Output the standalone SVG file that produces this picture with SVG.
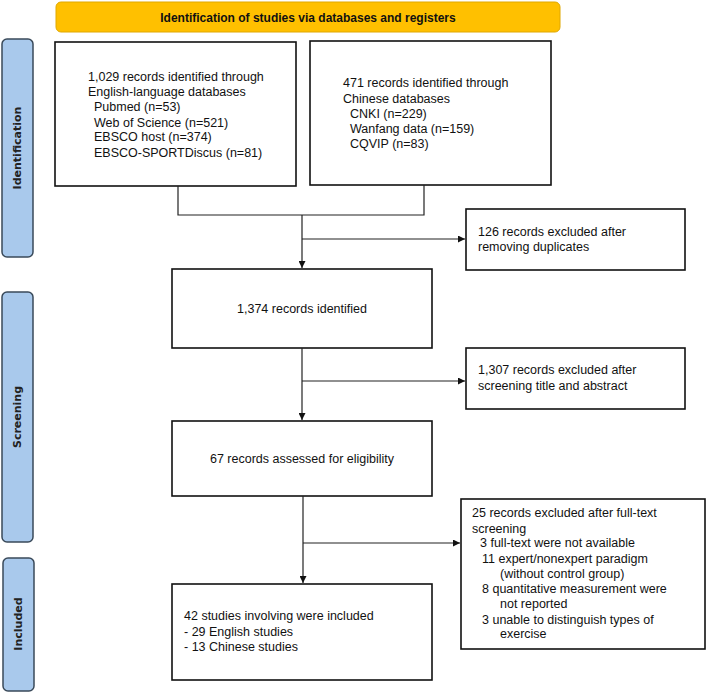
<svg xmlns="http://www.w3.org/2000/svg" width="708" height="695" viewBox="0 0 708 695">
<style>
text{font-family:"Liberation Sans",Arial,sans-serif;font-size:12.5px;fill:#111}
.box{fill:#fff;stroke:#111;stroke-width:1.6}
.side{fill:#a9c9ec;stroke:#3a4a5a;stroke-width:1.5}
.sl{font-family:"DejaVu Sans",sans-serif;font-weight:bold;font-size:11px;fill:#222;text-anchor:middle}
.ln{fill:none;stroke:#222;stroke-width:1.2}
</style>
<defs><marker id="ar" viewBox="0 0 10 10" refX="10" refY="5" markerWidth="7" markerHeight="7" orient="auto" markerUnits="userSpaceOnUse"><path d="M0,0L10,5L0,10z" fill="#111"/></marker></defs>
<g id="banner"><rect x="56" y="2" width="504" height="30" rx="5" fill="#ffc000" stroke="#e0a800"/><text x="308" y="21.5" text-anchor="middle" style="font-weight:bold;font-size:12px">Identification of studies via databases and registers</text></g>
<g id="side-identification"><rect x="2" y="39" width="31" height="218" rx="5" class="side"/><text class="sl" transform="translate(21,148) rotate(-90)">Identification</text></g>
<g id="side-screening"><rect x="2" y="292" width="31" height="250" rx="5" class="side"/><text class="sl" transform="translate(21,417) rotate(-90)">Screening</text></g>
<g id="side-included"><rect x="3" y="558" width="31" height="133" rx="5" class="side"/><text class="sl" transform="translate(22,624) rotate(-90)">Included</text></g>
<g id="english"><rect x="55" y="42" width="241" height="144" class="box"/>
<text x="88" y="81">1,029 records identified through</text><text x="88" y="96">English-language databases</text><text x="94" y="111">Pubmed (n=53)</text><text x="94" y="127">Web of Science (n=521)</text><text x="94" y="141">EBSCO host (n=374)</text><text x="94" y="157">EBSCO-SPORTDiscus (n=81)</text></g>
<g id="chinese"><rect x="310" y="41" width="241" height="144" class="box"/>
<text x="343" y="87">471 records identified through</text><text x="343" y="103">Chinese databases</text><text x="350" y="118">CNKI (n=229)</text><text x="350" y="133">Wanfang data (n=159)</text><text x="350" y="148">CQVIP (n=83)</text></g>
<g id="dup"><rect x="466" y="209" width="219" height="61" class="box"/><text x="478" y="236">126 records excluded after</text><text x="478" y="251">removing duplicates</text></g>
<g id="identified"><rect x="172" y="269" width="260" height="79" class="box"/><text x="302" y="313" text-anchor="middle">1,374 records identified</text></g>
<g id="excl-title"><rect x="466" y="348" width="219" height="61" class="box"/><text x="478" y="374">1,307 records excluded after</text><text x="478" y="390">screening title and abstract</text></g>
<g id="eligibility"><rect x="172" y="421" width="260" height="75" class="box"/><text x="302" y="463" text-anchor="middle">67 records assessed for eligibility</text></g>
<g id="excl-full"><rect x="461" y="499" width="244" height="150" class="box"/>
<text x="472" y="517">25 records excluded after full-text</text><text x="472" y="533">screening</text><text x="480" y="547">3 full-text were not available</text><text x="482" y="563">11 expert/nonexpert paradigm</text><text x="500" y="578">(without control group)</text><text x="482" y="593">8 quantitative measurement were</text><text x="500" y="608">not reported</text><text x="482" y="624">3 unable to distinguish types of</text><text x="500" y="638">exercise</text></g>
<g id="included"><rect x="172" y="584" width="260" height="96" class="box"/><text x="184" y="620">42 studies involving were included</text><text x="184" y="636">- 29 English studies</text><text x="184" y="651">- 13 Chinese studies</text></g>
<g id="connectors">
<path class="ln" d="M178,186V215H424V185"/>
<path class="ln" d="M302,215V268" marker-end="url(#ar)"/>
<path class="ln" d="M302,239H465" marker-end="url(#ar)"/>
<path class="ln" d="M302,348V420" marker-end="url(#ar)"/>
<path class="ln" d="M302,381H465" marker-end="url(#ar)"/>
<path class="ln" d="M303,496V583" marker-end="url(#ar)"/>
<path class="ln" d="M303,543H460" marker-end="url(#ar)"/>
</g>
</svg>
